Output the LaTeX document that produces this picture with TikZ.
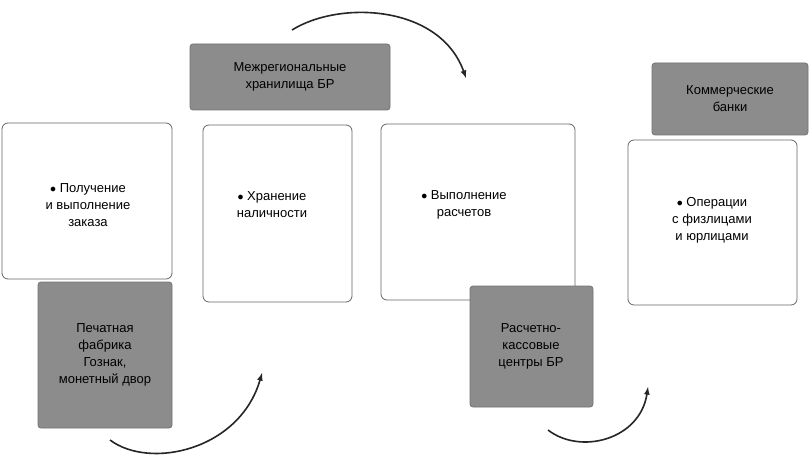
\documentclass[tikz,border=0pt]{standalone}
\usepackage{fontspec}
\setmainfont{Liberation Sans}
\begin{document}
\begin{tikzpicture}[x=1pt,y=-1pt,
  whitebox/.style={draw=black!60,fill=white,rounded corners=6pt,line width=0.8pt},
  graybox/.style={draw=black!55,fill=black!45,rounded corners=3pt,line width=0.8pt},
  lbl/.style={align=center,font=\fontsize{13}{17}\selectfont,inner sep=0pt},
  arc/.style={->,>=latex,line width=1.6pt,black!85}]
\useasboundingbox[fill=white] (0,0) rectangle (810,462);

%white boxes
\draw[whitebox] (2,123) rectangle (172,279);
\draw[whitebox] (203,125) rectangle (352,302);
\draw[whitebox] (381,124) rectangle (575,300);
\draw[whitebox] (628,140) rectangle (797,305);
\node[lbl] (t1) at (88,205) {$\bullet$ Получение\\ и выполнение\\ заказа};
\node[lbl] (t2) at (272,205) {$\bullet$ Хранение\\ наличности};
\node[lbl] (t3) at (464,205) {$\bullet$ Выполнение\\ расчетов};
\node[lbl] (t4) at (712,220) {$\bullet$ Операции\\ с физлицами\\ и юрлицами};

%gray boxes
\draw[graybox] (38,282) rectangle (172,428);
\draw[graybox] (190,44) rectangle (390,110);
\draw[graybox] (470,286) rectangle (593,407);
\draw[graybox] (652,63) rectangle (808,135);
\node[lbl] (g1) at (105,355) {Печатная\\ фабрика\\ Гознак,\\ монетный двор};
\node[lbl] (g2) at (290,77) {Межрегиональные\\ хранилища БР};
\node[lbl] (g3) at (531,346) {Расчетно-\\ кассовые\\ центры БР};
\node[lbl] (g4) at (730,99) {Коммерческие\\ банки};

%curved arrows
\coordinate (a1) at (110,440);
\coordinate (b1) at (262,373);
\draw[arc] (a1) .. controls (150,470) and (240,450) .. (b1);
\coordinate (a2) at (292,30);
\coordinate (b2) at (466,78);
\draw[arc] (a2) .. controls (340,0) and (440,5) .. (b2);
\coordinate (a3) at (548,430);
\coordinate (b3) at (648,387);
\draw[arc] (a3) .. controls (580,455) and (640,440) .. (b3);
\end{tikzpicture}
\end{document}
